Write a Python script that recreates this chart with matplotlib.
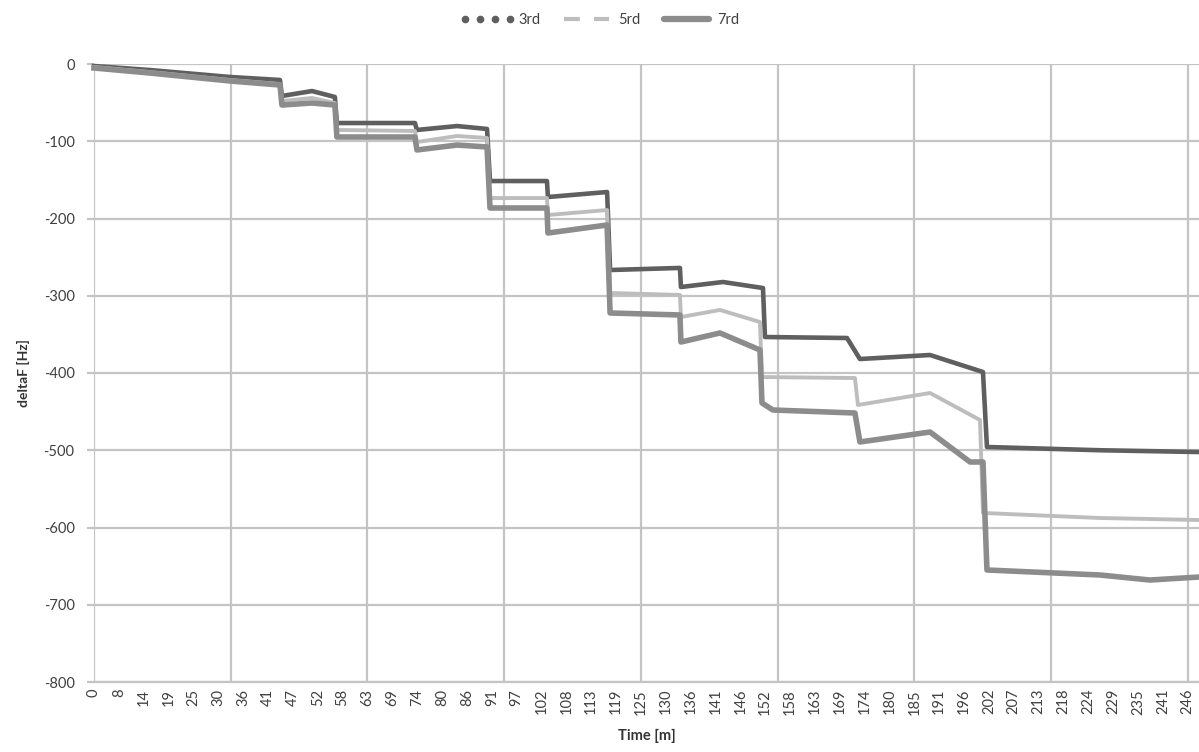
import numpy as np
import matplotlib.pyplot as plt
from matplotlib.lines import Line2D

# 横轴刻度标签 (min)
time_labels = [0, 8, 14, 19, 25, 30, 36, 41, 47, 52, 58, 63, 69, 74, 80, 86, 91, 97,
               102, 108, 113, 119, 125, 130, 136, 141, 146, 152, 158, 163, 169, 174,
               180, 185, 191, 196, 202, 207, 213, 218, 224, 229, 235, 241, 246]

# 各谐波曲线: x 为类别轴位置 (刻度序号), y 为 deltaF [Hz]
x_3rd = [0, 2.25, 5.47, 7.48, 7.56, 8.77, 9.69, 9.77, 12.91, 12.99, 14.60, 15.81,
         15.93, 18.22, 18.26, 20.64, 20.76, 23.57, 23.61, 25.30, 26.91, 26.99,
         30.29, 30.81, 33.63, 35.76, 35.92, 40.47, 44.45]
y_3rd = [-2.6, -7.8, -16.8, -20.7, -41.4, -35.0, -42.7, -76.4, -76.4, -85.4, -80.3, -84.1,
         -151.5, -151.5, -172.2, -165.7, -266.7, -264.0, -288.7, -282.2, -290.0, -353.4,
         -354.7, -381.9, -376.7, -398.7, -495.8, -500.0, -502.3]

x_5rd = [0, 2.25, 5.47, 7.48, 7.56, 8.77, 9.69, 9.77, 12.91, 12.99, 14.60, 15.81,
         15.93, 18.22, 18.26, 20.64, 20.76, 23.57, 23.61, 25.18, 26.79, 26.87,
         30.61, 30.73, 33.63, 35.64, 35.76, 40.47, 44.45]
y_5rd = [-3.9, -10.4, -20.7, -25.9, -47.9, -44.0, -50.5, -85.4, -86.7, -101.0, -93.2, -95.8,
         -173.5, -173.5, -195.5, -189.0, -296.4, -299.0, -327.5, -318.4, -334.0, -405.2,
         -406.5, -441.4, -425.9, -460.8, -581.2, -587.7, -590.3]

x_7rd = [0, 2.25, 5.47, 7.48, 7.56, 8.77, 9.69, 9.77, 12.91, 12.99, 14.60, 15.81,
         15.93, 18.22, 18.26, 20.64, 20.76, 23.57, 23.61, 25.18, 26.79, 26.87, 27.31,
         30.61, 30.81, 33.63, 35.24, 35.76, 35.92, 40.47, 42.48, 44.45]
y_7rd = [-5.2, -11.7, -22.0, -27.2, -53.1, -50.5, -53.1, -94.5, -94.5, -111.3, -104.9, -107.4,
         -186.4, -186.4, -218.8, -208.4, -322.3, -324.9, -359.9, -348.2, -370.2, -438.8,
         -447.9, -451.8, -489.3, -476.4, -515.2, -515.2, -655.0, -661.5, -668.0, -664.1]

c3, c5, c7 = '#5f5f5f', '#bdbdbd', '#8c8c8c'
grid_c = '#c4c4c4'

plt.rcParams['font.family'] = ['Lato', 'DejaVu Sans']

fig = plt.figure(figsize=(11.99, 7.52), dpi=100)
ax = fig.add_axes([94 / 1199, 1 - 682 / 752, 1 - 94 / 1199, (682 - 64) / 752])

ax.plot(x_3rd, y_3rd, color=c3, lw=3.3, solid_joinstyle='round', zorder=3, clip_on=False)
ax.plot(x_5rd, y_5rd, color=c5, lw=2.8, solid_joinstyle='round', zorder=4, clip_on=False)
ax.plot(x_7rd, y_7rd, color=c7, lw=4.0, solid_joinstyle='round', zorder=5, clip_on=False)

ax.set_xlim(0, 44.45)
ax.set_ylim(-800, 0)

# 横轴: 每个类别一个标签, 每 5.5 个类别一条竖网格线
ax.set_xticks(range(len(time_labels)))
ax.set_xticklabels([str(t) for t in time_labels], rotation=90, fontsize=10.5, color='#404040')
ax.tick_params(axis='x', length=0, pad=5)
for gx in np.arange(0, 44.1, 5.5):
    ax.axvline(gx, color=grid_c, lw=1.6, zorder=1)

ax.set_yticks(np.arange(-800, 1, 100))
ax.set_yticklabels([str(v) for v in range(-800, 1, 100)], fontsize=10.5, color='#404040')
ax.tick_params(axis='y', length=5, width=1.6, color=grid_c, pad=9)
ax.grid(axis='y', color=grid_c, lw=1.6, zorder=1)
ax.set_axisbelow(True)

for s in ['top', 'right', 'left']:
    ax.spines[s].set_visible(False)
ax.spines['bottom'].set_color(grid_c)
ax.spines['bottom'].set_linewidth(1.6)

ax.set_xlabel('Time [m]', fontsize=10.5, fontweight='bold', color='#333333', labelpad=10)
ax.set_ylabel('deltaF [Hz]', fontsize=10, fontweight='bold', color='#333333', labelpad=10)

handles = [
    Line2D([], [], ls='none', marker='o', ms=4.5, color=c3, mec=c3),
    Line2D([], [], color=c5, lw=3, dashes=(3.8, 3.4), dash_capstyle='butt'),
    Line2D([], [], color=c7, lw=4.5, solid_capstyle='round'),
]
fig.legend(handles, ['3rd', '5rd', '7rd'], loc='center', bbox_to_anchor=(600 / 1199, 1 - 20 / 752),
           ncol=3, frameon=False, fontsize=10.5, numpoints=4, handlelength=3.7,
           handletextpad=0.3, columnspacing=1.3, labelcolor='#404040')

fig.savefig('out.png', dpi=100)
